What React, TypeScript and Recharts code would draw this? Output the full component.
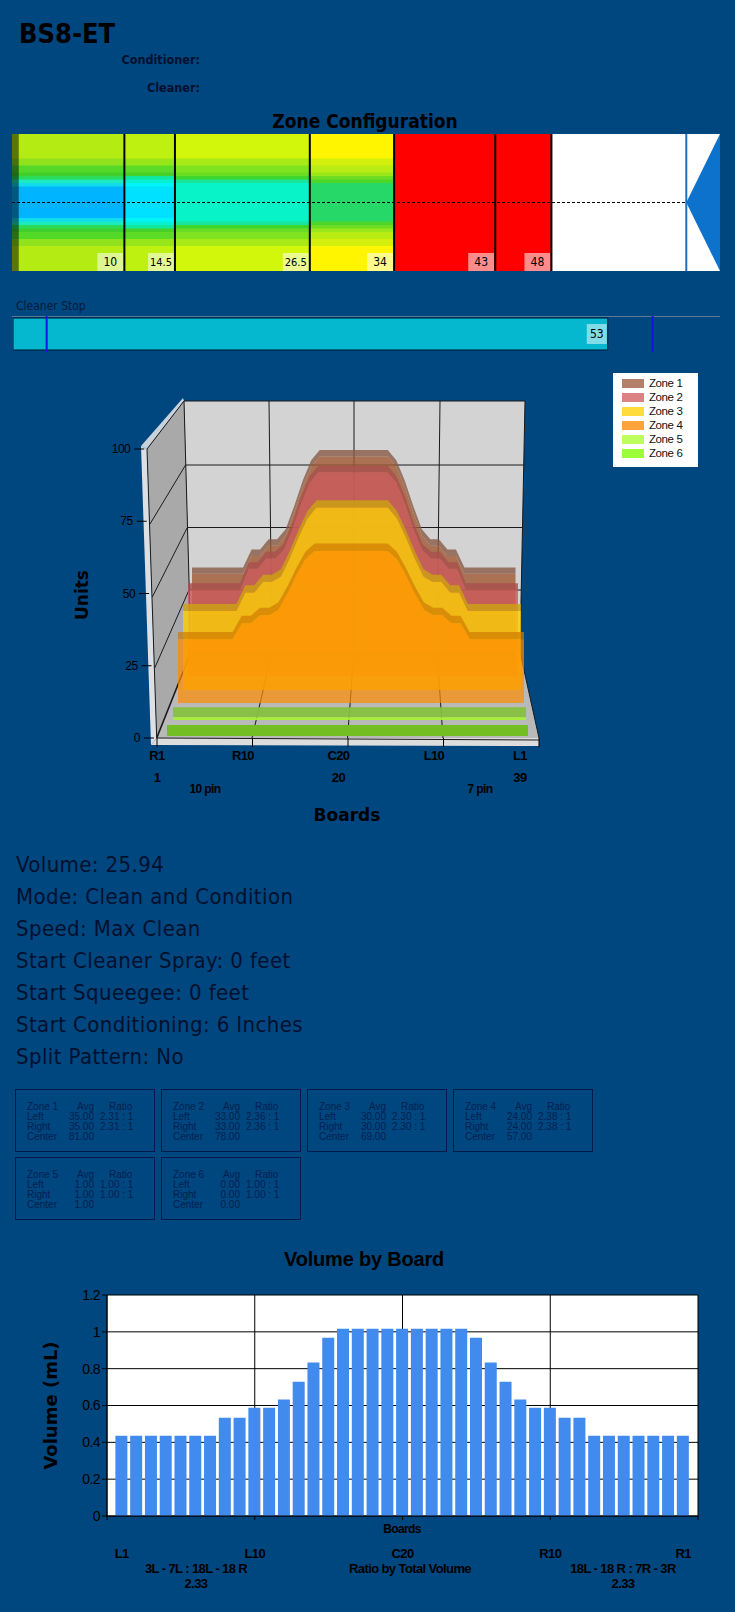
import { CSSProperties } from 'react';
import {
  Area,
  AreaChart,
  Bar,
  BarChart,
  CartesianGrid,
  Cell,
  LabelList,
  Line,
  LineChart,
  ReferenceArea,
  ReferenceLine,
  XAxis,
  YAxis,
} from 'recharts';

const PAGE = '#00467F';
const INK = '#00112E';
const CONDENSED = '"DejaVu Sans Condensed", "DejaVu Sans", sans-serif';
const NARROW = '"Liberation Sans", sans-serif';

// ---- values ----
const boards = [
  1, 2, 3, 4, 5, 6, 7, 8, 9, 10, 11, 12, 13, 14, 15, 16, 17, 18, 19, 20,
  21, 22, 23, 24, 25, 26, 27, 28, 29, 30, 31, 32, 33, 34, 35, 36, 37, 38, 39,
];
const zone1 = [35, 35, 35, 35, 35, 35, 35, 42, 42, 46, 46, 50, 59, 69, 77, 81, 81, 81, 81, 81, 81, 81, 81, 81, 77, 69, 59, 50, 46, 46, 42, 42, 35, 35, 35, 35, 35, 35, 35];
const zone2 = [33, 33, 33, 33, 33, 33, 33, 41, 41, 45, 45, 48, 56, 66, 74, 78, 78, 78, 78, 78, 78, 78, 78, 78, 74, 66, 56, 48, 45, 45, 41, 41, 33, 33, 33, 33, 33, 33, 33];
const zone3 = [30, 30, 30, 30, 30, 30, 30, 37, 37, 41, 41, 43, 50, 58, 65, 69, 69, 69, 69, 69, 69, 69, 69, 69, 65, 58, 50, 43, 41, 41, 37, 37, 30, 30, 30, 30, 30, 30, 30];
const zone4 = [24, 24, 24, 24, 24, 24, 24, 30, 30, 33, 33, 35, 41, 48, 54, 57, 57, 57, 57, 57, 57, 57, 57, 57, 54, 48, 41, 35, 33, 33, 30, 30, 24, 24, 24, 24, 24, 24, 24];
const zone5 = [1, 1, 1, 1, 1, 1, 1, 1, 1, 1, 1, 1, 1, 1, 1, 1, 1, 1, 1, 1, 1, 1, 1, 1, 1, 1, 1, 1, 1, 1, 1, 1, 1, 1, 1, 1, 1, 1, 1];
const zone6 = [0, 0, 0, 0, 0, 0, 0, 0, 0, 0, 0, 0, 0, 0, 0, 0, 0, 0, 0, 0, 0, 0, 0, 0, 0, 0, 0, 0, 0, 0, 0, 0, 0, 0, 0, 0, 0, 0, 0];
const volumeByBoard = [
  0.436, 0.436, 0.436, 0.436, 0.436, 0.436, 0.436, 0.534, 0.534, 0.588, 0.588, 0.632, 0.729, 0.833, 0.968,
  1.017, 1.017, 1.017, 1.017, 1.017, 1.017, 1.017, 1.017, 1.017,
  0.968, 0.833, 0.729, 0.632, 0.588, 0.588, 0.534, 0.534, 0.436, 0.436, 0.436, 0.436, 0.436, 0.436, 0.436,
];

// colour step of each board in the zone strip
const boardSteps = [0, 0, 0, 0, 0, 0, 0, 1, 1, 2, 2, 3, 4, 5, 6, 7, 7, 7, 7, 7, 7, 7, 7, 7, 6, 5, 4, 3, 2, 2, 1, 1, 0, 0, 0, 0, 0, 0, 0];
const zoneStops = [10, 14.5, 26.5, 34, 43, 48];
const stripColors = [
  ['#B4EB12', '#90E21C', '#55D928', '#40CF2C', '#2CDC58', '#1CEAC0', '#10DCEC', '#00B4FF'],
  ['#BEF010', '#98E51A', '#5CDC26', '#45D02A', '#10E8A0', '#08F0D0', '#00F4F8', '#00E0FF'],
  ['#D2F70A', '#A8EA18', '#7FE31F', '#6ADC24', '#3CD62C', '#18E49C', '#08F4C8', '#08F4C8'],
  ['#FFF500', '#D4EF0B', '#B8EC12', '#9AE71A', '#6EDD22', '#4CD62A', '#26D868', '#26D868'],
  ['#FF0000', '#FF0000', '#FF0000', '#FF0000', '#FF0000', '#FF0000', '#FF0000', '#FF0000'],
  ['#FF0000', '#FF0000', '#FF0000', '#FF0000', '#FF0000', '#FF0000', '#FF0000', '#FF0000'],
];
const laneEnd = 60;
const stripEnd = 63;
const cleanerStop = 53;
const cleanerMarks = [3, 57];

const statLines = [
  'Volume: 25.94',
  'Mode: Clean and Condition',
  'Speed: Max Clean',
  'Start Cleaner Spray: 0 feet',
  'Start Squeegee: 0 feet',
  'Start Conditioning: 6 Inches',
  'Split Pattern: No',
];
const zoneNames = ['Zone 1', 'Zone 2', 'Zone 3', 'Zone 4', 'Zone 5', 'Zone 6'];
const legendColors = ['#B5806A', '#DC8285', '#FFDC3C', '#FFA33C', '#BEFF5E', '#9AFF3A'];
const zoneLeft = ['35.00', '33.00', '30.00', '24.00', '1.00', '0.00'];
const zoneRatio = ['2.31 : 1', '2.36 : 1', '2.30 : 1', '2.38 : 1', '1.00 : 1', '1.00 : 1'];
const zoneCenter = ['81.00', '78.00', '69.00', '57.00', '1.00', '0.00'];

const volumeTicks = [0, 0.2, 0.4, 0.6, 0.8, 1, 1.2];
const boardGridTicks = [0, 10, 20, 30, 40];
const volumeLabelTicks = [1, 10, 20, 30, 39];
const volumeLabels = ['L1', 'L10', 'C20', 'R10', 'R1'];
const floorLabelTicks = [0, 9, 19, 29, 38];
const floorLabels = ['R1', 'R10', 'C20', 'L10', 'L1'];
const floorNumbers = ['1', '', '20', '', '39'];
const unitTicks = [0, 25, 50, 75, 100];

const stripData = boards.map((board) => {
  const row: Record<string, number> = { board };
  zoneStops.forEach((stop, i) => {
    row[`z${i}`] = stop - (i ? zoneStops[i - 1] : 0);
  });
  row.rest = stripEnd - zoneStops[zoneStops.length - 1];
  return row;
});
const volumeData = boards.map((board, i) => ({ board, volume: volumeByBoard[i] }));

// ---- small helpers ----
const Txt = ({ x, y, anchor = 'left', style, children }: any) => {
  const tx = anchor === 'center' ? '-50%' : anchor === 'right' ? '-100%' : '0';
  return (
    <div
      style={{
        position: 'absolute',
        left: x,
        top: y,
        transform: `translate(${tx}, -50%)`,
        whiteSpace: 'nowrap',
        color: '#000',
        ...style,
      }}
    >
      {children}
    </div>
  );
};

const StopLine = ({ x1, y1, y2, value }: any) => {
  const bottom = Math.max(y1, y2);
  const top = Math.min(y1, y2);
  return (
    <g>
      <rect x={x1 - 27} y={bottom - 18} width={26} height={18} fill="#fff" fillOpacity={0.55} />
      <text x={x1 - 14} y={bottom - 9} textAnchor="middle" dominantBaseline="central" fontFamily={CONDENSED} fontSize={value === 14.5 || value === 26.5 ? 11 : 12} fill="#000">
        {value}
      </text>
      <line x1={x1} x2={x1} y1={top} y2={bottom} stroke="#000" strokeWidth={2} />
    </g>
  );
};

const LaneArrow = ({ x, y, width, height }: any) => (
  <g>
    <rect x={x} y={y} width={width} height={height} fill="#fff" />
    <polygon points={`${x},${y + height / 2} ${x + width},${y} ${x + width},${y + height}`} fill="#0D72CC" />
    <line x1={x} x2={x} y1={y} y2={y + height} stroke="#1E6FBF" strokeWidth={2} />
  </g>
);

// ---- zone strip ----
const ZoneStrip = () => (
  <div style={{ position: 'absolute', left: 12, top: 134 }}>
    <BarChart width={708} height={137} data={stripData} layout="vertical" barCategoryGap={0} margin={{ top: 0, right: 0, bottom: 0, left: 0 }}>
      <XAxis type="number" domain={[0, stripEnd]} hide />
      <YAxis type="category" dataKey="board" hide />
      {zoneStops.map((stop, z) => (
        <Bar key={stop} dataKey={`z${z}`} stackId="lane" isAnimationActive={false} shapeRendering="crispEdges">
          {boardSteps.map((step, b) => (
            <Cell key={b} fill={stripColors[z][step]} stroke={stripColors[z][step]} strokeWidth={0.5} />
          ))}
        </Bar>
      ))}
      <Bar dataKey="rest" stackId="lane" fill="#fff" stroke="#fff" strokeWidth={0.5} isAnimationActive={false} shapeRendering="crispEdges" />
      <ReferenceArea x1={0} x2={0.6} fill="#000" fillOpacity={0.5} stroke="none" zIndex={600} />
      <ReferenceArea x1={laneEnd} x2={stripEnd} shape={LaneArrow} zIndex={600} />
      <ReferenceLine y={20} stroke="#000" strokeDasharray="3 2" />
      {zoneStops.map((stop) => (
        <ReferenceLine key={stop} x={stop} shape={(p: any) => <StopLine {...p} value={stop} />} />
      ))}
    </BarChart>
  </div>
);

const CleanerTag = ({ x, y, width, height, value }: any) => (
  <g>
    <rect x={x + width - 21} y={y + height / 2 - 10} width={20} height={20} fill="#fff" fillOpacity={0.5} />
    <text x={x + width - 11} y={y + height / 2} textAnchor="middle" dominantBaseline="central" fontFamily={CONDENSED} fontSize={12} fill="#000">
      {value}
    </text>
  </g>
);

const CleanerBar = () => (
  <div style={{ position: 'absolute', left: 13, top: 316 }}>
    <BarChart width={707} height={36} data={[{ name: 'Cleaner Stop', stop: cleanerStop }]} layout="vertical" barCategoryGap={2} margin={{ top: 0, right: 0, bottom: 0, left: 0 }}>
      <XAxis type="number" domain={[0, stripEnd]} hide />
      <YAxis type="category" dataKey="name" hide />
      <Bar dataKey="stop" fill="#05B8CF" stroke="#001233" isAnimationActive={false}>
        <LabelList dataKey="stop" content={CleanerTag} />
      </Bar>
      {cleanerMarks.map((m) => (
        <ReferenceLine key={m} x={m} stroke="#1414E6" strokeWidth={2} />
      ))}
    </BarChart>
  </div>
);

// ---- the leaning walls behind the ribbons, only a frame ----
const WallFrame = () => {
  const backLines = [[185.6, 524, 465], [187.3, 522.5, 527.5], [189, 521, 590]];
  const sideLines = [[150, 524, 185.6, 465], [152.3, 597, 187.3, 527.5], [154.7, 668, 189, 590]];
  const verticals = [[269, 272, 252], [354, 354, 347.5], [440, 437, 443]];
  return (
    <svg width={735} height={800} style={{ position: 'absolute', left: 0, top: 0 }}>
      <polygon points="184,401 525,401 520,652 191,652" fill="#D3D3D3" />
      <polygon points="184,401 147,449 156.7,738 191,652" fill="#A9A9A9" />
      <polygon points="183,398 141,446 147,449 184,401" fill="#C7D2DC" />
      <polygon points="141,446 147,449 156.7,738 151,745" fill="#DCE0E4" />
      <polygon points="191,652 520,652 539,738 156.7,738" fill="#B9B9B9" />
      <polygon points="156.7,738 539,738 539,746 151,745" fill="#DDDDDD" />
      <g stroke="#1A1A1A" strokeWidth={1} fill="none">
        <polyline points="147,449 184,401 525,401 520,652" />
        <line x1={184} y1={401} x2={191} y2={652} />
        <line x1={147} y1={449} x2={156.7} y2={738} />
        <line x1={191} y1={652} x2={156.7} y2={738} strokeWidth={1.6} />
        <line x1={520} y1={652} x2={539} y2={738} />
        <line x1={156.7} y1={738} x2={539} y2={740} />
        {backLines.map(([a, b, y]) => (
          <line key={y} x1={a} y1={y} x2={b} y2={y} />
        ))}
        {sideLines.map(([a, b, c, d]) => (
          <line key={b} x1={a} y1={b} x2={c} y2={d} />
        ))}
        {verticals.map(([top, mid, front]) => (
          <g key={top}>
            <line x1={top} y1={401} x2={mid} y2={652} />
            <line x1={mid} y1={652} x2={front} y2={738} />
          </g>
        ))}
      </g>
    </svg>
  );
};

// one translucent ribbon, each sits at its own depth so it has its own scale
const ribbons = [
  { values: zone1, left: 192.3, right: 515.8, base: 663, unit: 2.55, band: 2.5, face: '#A05A32', top: '#8A5A46', alpha: 0.8 },
  { values: zone2, left: 187.8, right: 517.8, base: 676, unit: 2.607, band: 2.5, face: '#CC5A5C', top: '#A84F4D', alpha: 0.8 },
  { values: zone3, left: 182.6, right: 521, base: 690.4, unit: 2.658, band: 2.7, face: '#FACF05', top: '#CBA40F', alpha: 0.8 },
  { values: zone4, left: 177.7, right: 524, base: 703.5, unit: 2.676, band: 2.8, face: '#FF8B00', top: '#D07A00', alpha: 0.7 },
  { values: zone5, left: 173, right: 526, base: 719.5, unit: 2.7, band: 3.7, face: '#A5F02F', top: '#86C040', alpha: 0.95 },
  { values: zone6, left: 167.3, right: 528.3, base: 736, unit: 2.7, band: 4.1, face: '#72BE23', top: '#72BE23', alpha: 1 },
];

const Ribbon = ({ values, left, right, base, unit, band, face, top, alpha }: any) => {
  const rows = boards.map((board, i) => ({ board, v: values[i], lid: [values[i], values[i] + band] }));
  const h = unit * 100;
  return (
    <div style={{ position: 'absolute', left, top: base - h }}>
      <AreaChart width={right - left} height={h} data={rows} margin={{ top: 0, right: 0, bottom: 0, left: 0 }}>
        <XAxis type="number" dataKey="board" domain={[1, 39]} hide />
        <YAxis domain={[0, 100]} hide />
        <Area type="linear" dataKey="lid" stroke="none" fill={top} fillOpacity={alpha} isAnimationActive={false} dot={false} activeDot={false} />
        <Area type="linear" dataKey="v" stroke="none" fill={face} fillOpacity={alpha} isAnimationActive={false} dot={false} activeDot={false} />
      </AreaChart>
    </div>
  );
};

const LeanTick = ({ x, y, payload }: any) => {
  const lean = (100 - payload.value) * 0.097 - 4.7;
  return (
    <g>
      <line x1={x + lean} x2={x + lean - 10} y1={y} y2={y} stroke="#000" />
      <text x={x + lean - 14} y={y} textAnchor="end" dominantBaseline="central" fontFamily={NARROW} fontSize={12} letterSpacing={-0.5} fill="#000">
        {payload.value}
      </text>
    </g>
  );
};

const FloorTick = ({ x, y, index }: any) => (
  <g fontFamily={NARROW} fontSize={13} fontWeight={700} letterSpacing={-0.6} textAnchor="middle" fill="#000">
    <text x={x} y={y + 4}>{floorLabels[index]}</text>
    <text x={x} y={y + 26}>{floorNumbers[index]}</text>
  </g>
);

const FloorAxes = () => (
  <div style={{ position: 'absolute', left: 100, top: 440 }}>
    <LineChart width={460} height={360} data={volumeData} margin={{ top: 9, right: 21, bottom: 0, left: 0 }}>
      <YAxis width={57} domain={[0, 100]} ticks={unitTicks} axisLine={false} tickLine={false} tick={LeanTick} />
      <XAxis xAxisId="grid" type="number" dataKey="board" domain={[0, 40]} ticks={boardGridTicks} height={10} axisLine={false} tickLine={{ stroke: '#000' }} tickSize={9} tickFormatter={() => ''} />
      <XAxis xAxisId="names" type="number" dataKey="board" domain={[0, 40]} ticks={floorLabelTicks} height={52} axisLine={false} tickLine={false} tick={FloorTick} interval={0} />
      <Line xAxisId="grid" dataKey="volume" stroke="none" dot={false} activeDot={false} isAnimationActive={false} legendType="none" />
    </LineChart>
  </div>
);

const LegendBox = () => (
  <div style={{ position: 'absolute', left: 613, top: 373, width: 85, height: 94, background: '#fff' }}>
    {zoneNames.map((name, i) => (
      <div key={name} style={{ position: 'absolute', left: 9, top: 6 + i * 14, height: 9, width: 22, background: legendColors[i] }}>
        <span style={{ position: 'absolute', left: 27, top: -2, font: `11.5px ${NARROW}`, letterSpacing: -0.4, color: '#111', whiteSpace: 'nowrap' }}>{name}</span>
      </div>
    ))}
  </div>
);

const ZoneCard = ({ i }: { i: number }) => {
  const cell: CSSProperties = { position: 'absolute', whiteSpace: 'nowrap' };
  const col = (rowIdx: number, a: string, b: string, c: string) => (
    <>
      <span style={{ ...cell, left: 11, top: 12 + rowIdx * 10 }}>{a}</span>
      <span style={{ ...cell, right: 139 - 79, top: 12 + rowIdx * 10 }}>{b}</span>
      <span style={{ ...cell, left: rowIdx ? 84 : 93, top: 12 + rowIdx * 10 }}>{c}</span>
    </>
  );
  return (
    <div
      style={{
        position: 'absolute',
        left: 15 + (i % 4) * 146,
        top: i < 4 ? 1089 : 1157,
        width: 138,
        height: 61,
        boxSizing: 'content-box',
        border: '1px solid #001A4A',
        font: `10px/10px "Liberation Sans", sans-serif`,
        color: '#00214F',
      }}
    >
      {col(0, zoneNames[i], 'Avg', 'Ratio')}
      {col(1, 'Left', zoneLeft[i], zoneRatio[i])}
      {col(2, 'Right', zoneLeft[i], zoneRatio[i])}
      {col(3, 'Center', zoneCenter[i], '')}
    </div>
  );
};

const VolumeLabelTick = ({ x, y, index }: any) => (
  <text x={x} y={y} dy={10} textAnchor="middle" fontFamily={NARROW} fontSize={13} fontWeight={700} letterSpacing={-0.6} fill="#000">
    {volumeLabels[index]}
  </text>
);

const VolumeChart = () => (
  <div style={{ position: 'absolute', left: 0, top: 1280 }}>
    <BarChart width={735} height={332} data={volumeData} margin={{ top: 15, right: 37, bottom: 32, left: 0 }}>
      <CartesianGrid xAxisId="grid" stroke="#000" fill="#fff" fillOpacity={1} horizontalValues={volumeTicks} verticalValues={boardGridTicks} />
      <YAxis
        width={107}
        domain={[0, 1.2]}
        ticks={volumeTicks}
        axisLine={{ stroke: '#000' }}
        tickLine={{ stroke: '#000' }}
        tickSize={5}
        tick={{ fill: '#000', fontFamily: NARROW, fontSize: 14, letterSpacing: -0.6 }}
        label={{ value: 'Volume (mL)', angle: -90, position: 'insideLeft', offset: 51, style: { fontFamily: '"DejaVu Sans", sans-serif', fontWeight: 700, fontSize: 18, fill: '#000', textAnchor: 'middle' } }}
      />
      <XAxis
        xAxisId="grid"
        type="number"
        dataKey="board"
        domain={[0, 40]}
        ticks={boardGridTicks}
        height={24}
        axisLine={{ stroke: '#000' }}
        tickLine={{ stroke: '#000' }}
        tickSize={4}
        tickFormatter={() => ''}
      />
      <XAxis xAxisId="names" type="number" dataKey="board" domain={[0, 40]} ticks={volumeLabelTicks} height={40} axisLine={false} tickLine={false} tick={VolumeLabelTick} interval={0} />
      <Bar xAxisId="grid" dataKey="volume" fill="#428BEE" barSize={12} isAnimationActive={false} />
    </BarChart>
  </div>
);

export default function App() {
  const small = { fontFamily: NARROW, fontSize: 13, fontWeight: 700, letterSpacing: -0.6 };
  return (
    <div style={{ position: 'absolute', left: 0, top: 0, width: 735, height: 1612, background: PAGE, overflow: 'hidden', color: '#000' }}>
      <Txt x={19} y={33} style={{ font: `700 27px ${CONDENSED}` }}>BS8-ET</Txt>
      <Txt x={200} y={58.5} anchor="right" style={{ font: `700 12.5px ${CONDENSED}`, color: INK }}>Conditioner:</Txt>
      <Txt x={200} y={87} anchor="right" style={{ font: `700 12.5px ${CONDENSED}`, color: INK }}>Cleaner:</Txt>
      <Txt x={365} y={121} anchor="center" style={{ font: `700 19px ${CONDENSED}` }}>Zone Configuration</Txt>
      <ZoneStrip />
      <Txt x={16} y={305.5} style={{ font: `12px ${CONDENSED}`, color: '#021B3D' }}>Cleaner Stop</Txt>
      <div style={{ position: 'absolute', left: 12, top: 316, width: 708, height: 1, background: '#5A7A96' }} />
      <CleanerBar />

      <WallFrame />
      {ribbons.map((r, i) => (
        <Ribbon key={i} {...r} />
      ))}
      <FloorAxes />
      <LegendBox />
      <Txt x={205} y={789} anchor="center" style={{ ...small, fontSize: 12 }}>10 pin</Txt>
      <Txt x={480} y={789} anchor="center" style={{ ...small, fontSize: 12 }}>7 pin</Txt>
      <Txt x={347} y={815} anchor="center" style={{ font: `700 17px "DejaVu Sans", sans-serif` }}>Boards</Txt>
      <Txt x={82} y={595} anchor="center" style={{ font: `700 17px "DejaVu Sans", sans-serif`, transform: 'translate(-50%, -50%) rotate(-90deg)' }}>Units</Txt>

      {statLines.map((line, i) => (
        <Txt key={line} x={16} y={864 + i * 32} style={{ font: `22px ${CONDENSED}`, letterSpacing: 0.4, color: INK }}>{line}</Txt>
      ))}
      {zoneNames.map((_, i) => (
        <ZoneCard key={i} i={i} />
      ))}

      <Txt x={364} y={1259} anchor="center" style={{ font: `700 20px "Liberation Sans", sans-serif`, letterSpacing: -0.2 }}>Volume by Board</Txt>
      <VolumeChart />
      <Txt x={402} y={1529} anchor="center" style={{ ...small, fontSize: 12 }}>Boards</Txt>
      <Txt x={196} y={1568} anchor="center" style={small}>3L - 7L : 18L - 18 R</Txt>
      <Txt x={196} y={1583} anchor="center" style={small}>2.33</Txt>
      <Txt x={410} y={1568} anchor="center" style={small}>Ratio by Total Volume</Txt>
      <Txt x={623} y={1568} anchor="center" style={small}>18L - 18 R : 7R - 3R</Txt>
      <Txt x={623} y={1583} anchor="center" style={small}>2.33</Txt>
    </div>
  );
}
